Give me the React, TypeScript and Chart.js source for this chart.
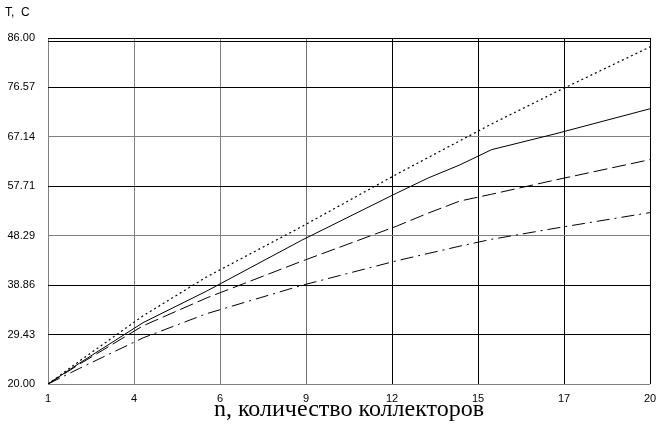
import React, { useEffect, useRef } from "react";
import { Chart, registerables } from "chart.js";

Chart.register(...registerables);

// ---- data ----
const nValues = [1, 2, 4, 6, 9, 12, 13, 14, 15, 17, 20];
const seriesDotted = [20, 24.4, 33.0, 40.4, 50.0, 60.0, 63.2, 66.4, 69.6, 75.6, 84.3];
const seriesSolid = [20, 24.0, 31.7, 37.7, 47.4, 56.4, 59.3, 61.8, 64.7, 67.7, 72.5];
const seriesDashed = [20, 23.8, 31.1, 36.4, 43.4, 50.1, 52.6, 54.9, 56.2, 58.9, 62.8];
const seriesDashDot = [20, 23.0, 28.8, 33.4, 38.8, 43.5, 44.9, 46.3, 47.6, 49.7, 52.7];

const xMin = 1;
const xMax = 20;
const xTickCount = 8;
const yTickLabels = ["20.00", "29.43", "38.86", "48.29", "57.71", "67.14", "76.57", "86.00"];
const yUnitLabel = "T,  C";
const xTitle = "n, количество коллекторов";

const xTickValues = Array.from({ length: xTickCount }, (_, i) => xMin + (i * (xMax - xMin)) / (xTickCount - 1));
const yMin = parseFloat(yTickLabels[0]);
const yMax = parseFloat(yTickLabels[yTickLabels.length - 1]);
const yTickValues = yTickLabels.map((_, i) => yMin + (i * (yMax - yMin)) / (yTickLabels.length - 1));

const xGridColors = ["#808080", "#808080", "#808080", "#707070", "#000", "#000", "#000", "#000"];
const yGridColors = ["#808080", "#000", "#000", "#808080", "#000", "#808080", "#000", "#000"];

const tickFont = { family: '"Liberation Sans", Arial, sans-serif', size: 11 };

const extras = {
  id: "extras",
  afterDraw(chart: any) {
    const { ctx, chartArea } = chart;
    ctx.save();
    ctx.strokeStyle = "#000";
    ctx.lineWidth = 1;
    ctx.beginPath();
    ctx.moveTo(chartArea.left, chartArea.top + 3.5);
    ctx.lineTo(chartArea.right, chartArea.top + 3.5);
    ctx.stroke();
    ctx.font = '12px "Liberation Sans", Arial, sans-serif';
    ctx.fillStyle = "#000";
    ctx.textBaseline = "alphabetic";
    ctx.fillText(yUnitLabel, 5, 16);
    ctx.restore();
  },
};

export default function App() {
  const ref = useRef<HTMLCanvasElement | null>(null);
  useEffect(() => {
    if (!ref.current) return;
    const mk = (data: number[], dash: number[], color: string, w: number) => ({
      data: nValues.map((n, i) => ({ x: n, y: data[i] })),
      borderColor: color,
      borderWidth: w,
      borderDash: dash,
      pointRadius: 0,
      tension: 0,
      fill: false,
    });
    const chart = new Chart(ref.current, {
      type: "line",
      data: {
        datasets: [
          mk(seriesDotted, [2, 3], "#000", 1.2),
          mk(seriesSolid, [], "#000", 1),
          mk(seriesDashed, [14, 5], "#000", 1),
          mk(seriesDashDot, [13, 5, 2, 5], "#000", 1),
        ],
      },
      plugins: [extras],
      options: {
        animation: false,
        responsive: false,
        maintainAspectRatio: false,
        layout: { padding: { top: 38, right: 15, left: 0, bottom: 0 } },
        plugins: { legend: { display: false }, tooltip: { enabled: false } },
        scales: {
          x: {
            type: "linear",
            min: xMin,
            max: xMax,
            afterBuildTicks: (s: any) => {
              s.ticks = xTickValues.map((v) => ({ value: v }));
            },
            afterFit: (s: any) => {
              s.height = 50;
            },
            ticks: {
              color: "#000",
              font: tickFont,
              padding: 8,
              maxRotation: 0,
              autoSkip: false,
              callback: (v: any) => String(Math.round(Number(v))),
            },
            grid: {
              drawTicks: false,
              lineWidth: 1,
              color: (c: any) => xGridColors[c.index] ?? "#000",
            },
            border: { display: false },
            title: {
              display: true,
              text: xTitle,
              color: "#000",
              font: { family: '"Liberation Serif", "Times New Roman", serif', size: 24 },
              padding: { top: 0, bottom: 10 },
            },
          },
          y: {
            type: "linear",
            min: yMin,
            max: yMax,
            afterBuildTicks: (s: any) => {
              s.ticks = yTickValues.map((v) => ({ value: v }));
            },
            afterFit: (s: any) => {
              s.width = 48;
            },
            ticks: {
              color: "#000",
              font: tickFont,
              padding: 13,
              autoSkip: false,
              callback: (_v: any, i: number) => yTickLabels[i],
            },
            grid: {
              drawTicks: false,
              lineWidth: 1,
              color: (c: any) => yGridColors[c.index] ?? "#000",
            },
            border: { display: false },
          },
        },
      },
    } as any);
    return () => chart.destroy();
  }, []);
  return (
    <div style={{ position: "absolute", left: 0, top: 0, width: 665, height: 434, background: "#fff" }}>
      <canvas ref={ref} width={665} height={434} />
    </div>
  );
}
